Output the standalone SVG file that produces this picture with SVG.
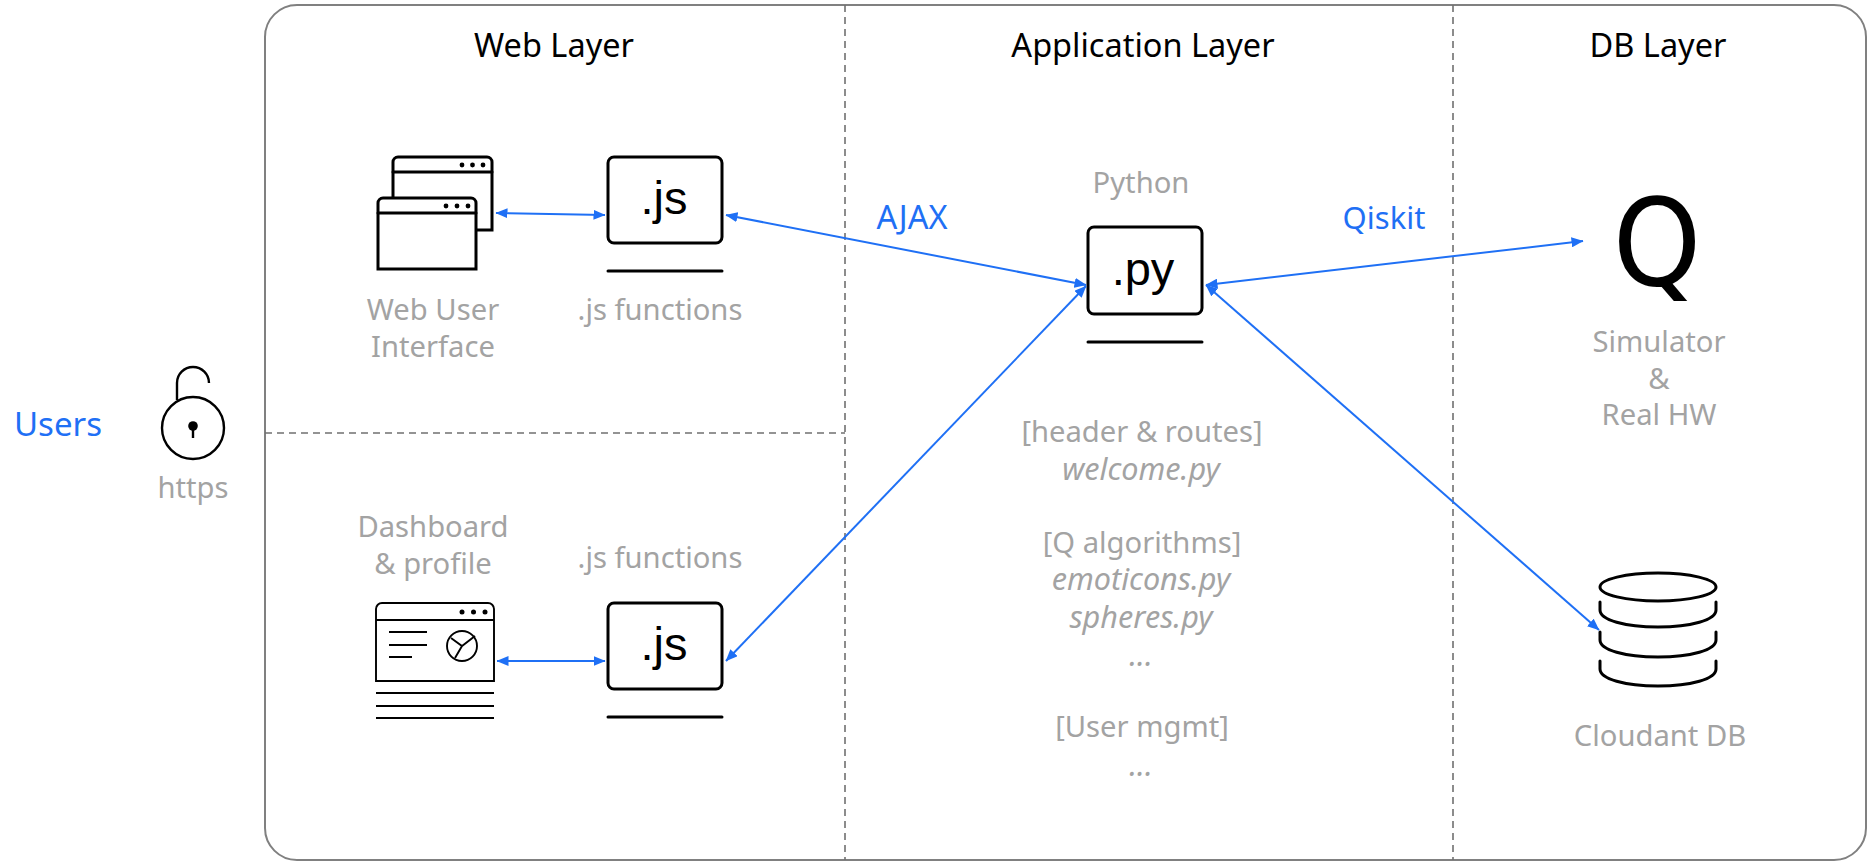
<svg xmlns="http://www.w3.org/2000/svg" width="1872" height="868" viewBox="0 0 1872 868">
<style>
text{font-family:"Noto Sans","Liberation Sans",sans-serif;font-size:29.200px;text-anchor:middle}
.h{fill:#000;font-size:32.500px}
.g{fill:#a3a3a3}
.i{font-style:italic;font-size:30.600px}
.b{fill:#1f70f5;font-size:31px}
.m{font-family:"Liberation Sans",Arial,sans-serif;font-size:47px;fill:#000}
.o{fill:#fff;stroke:#000;stroke-width:3}
.s{fill:none;stroke:#000;stroke-width:3;stroke-linecap:round}
.t{fill:none;stroke:#000;stroke-width:1.9}
.d{fill:none;stroke:#707070;stroke-width:1.6;stroke-dasharray:7 5}
.c{fill:none;stroke:#1f70f5;stroke-width:2;marker-start:url(#a);marker-end:url(#a)}
</style>
<defs>
<marker id="a" viewBox="0 0 12 10" refX="11.5" refY="5" markerWidth="12" markerHeight="10" markerUnits="userSpaceOnUse" orient="auto-start-reverse"><path d="M0 0L12 5L0 10Z" fill="#1f70f5"/></marker>
</defs>
<rect width="1872" height="868" fill="#fff"/>
<g id="frame">
<rect x="265" y="5" width="1601" height="855" rx="32" fill="#fff" stroke="#808080" stroke-width="2"/>
<path class="d" d="M845 5V860M1453 5V860M265 433H845"/>
</g>
<g id="titles">
<text class="h" x="554" y="57">Web Layer</text>
<text class="h" x="1143" y="57">Application Layer</text>
<text class="h" x="1658" y="57">DB Layer</text>
</g>
<g id="users"><text class="b" x="14" y="436" style="text-anchor:start;font-size:33px">Users</text></g>
<g id="lock">
<circle cx="193" cy="428" r="31" fill="#fff" stroke="#000" stroke-width="2.4"/>
<path d="M177 400V383A16 16 0 0 1 209 383" fill="none" stroke="#000" stroke-width="2.4"/>
<circle cx="193" cy="426" r="4.8"/><path d="M193 428V438" stroke="#000" stroke-width="2.4"/>
<text class="g" x="193" y="498">https</text>
</g>
<g id="web-ui">
<path class="o" d="M393 230V162a5 5 0 0 1 5-5H487a5 5 0 0 1 5 5V230Z"/>
<path class="s" d="M393 172H492"/>
<circle cx="462" cy="165" r="2.4"/><circle cx="472.500" cy="165" r="2.4"/><circle cx="483" cy="165" r="2.4"/>
<path class="o" d="M378 269V203a5 5 0 0 1 5-5H471a5 5 0 0 1 5 5V269Z"/>
<path class="s" d="M378 213H476"/>
<circle cx="446" cy="206" r="2.4"/><circle cx="457" cy="206" r="2.4"/><circle cx="468" cy="206" r="2.4"/>
<text class="g" x="433" y="320">Web User</text>
<text class="g" x="433" y="357">Interface</text>
</g>
<g id="js-top">
<rect class="o" x="608" y="157" width="114" height="86" rx="6"/>
<path class="s" d="M608 271H722"/>
<text class="m" x="664" y="214">.js</text>
<text class="g" x="660" y="320">.js functions</text>
</g>
<g id="dashboard">
<text class="g" x="433" y="537">Dashboard</text>
<text class="g" x="433" y="574">&amp; profile</text>
<path class="t" d="M376 681V609a6 6 0 0 1 6-6H488a6 6 0 0 1 6 6V681Z"/>
<path class="t" d="M376 620H494M389 632H427M389 645H427M389 657H412M376 693H494M376 706H494M376 718H494"/>
<circle cx="462" cy="612" r="2.500"/><circle cx="473.500" cy="612" r="2.500"/><circle cx="485" cy="612" r="2.500"/>
<circle class="t" cx="462" cy="646" r="15"/>
<path class="t" d="M451 638L462 646L475 636M462 646L455 658"/>
</g>
<g id="js-bottom">
<rect class="o" x="608" y="603" width="114" height="86" rx="6"/>
<path class="s" d="M608 717H722"/>
<text class="m" x="664" y="660">.js</text>
<text class="g" x="660" y="568">.js functions</text>
</g>
<g id="python">
<text class="g" x="1141" y="193">Python</text>
<rect class="o" x="1088" y="227" width="114" height="87" rx="6"/>
<path class="s" d="M1088 342H1202"/>
<text class="m" x="1143" y="285">.py</text>
</g>
<g id="modules">
<text class="g" x="1142" y="442">[header &amp; routes]</text>
<text class="g i" x="1141" y="480">welcome.py</text>
<text class="g" x="1142" y="553">[Q algorithms]</text>
<text class="g i" x="1141" y="590">emoticons.py</text>
<text class="g i" x="1141" y="628">spheres.py</text>
<text class="g i" x="1141" y="666">...</text>
<text class="g" x="1142" y="737">[User mgmt]</text>
<text class="g i" x="1141" y="776">...</text>
</g>
<g id="simulator">
<text transform="translate(1657 285) scale(.93 1)" x="0" y="0" style="font-size:121px;font-family:'DejaVu Sans',sans-serif;fill:#000">Q</text>
<text class="g" x="1659" y="352">Simulator</text>
<text class="g" x="1659" y="389">&amp;</text>
<text class="g" x="1659" y="425">Real HW</text>
</g>
<g id="db">
<ellipse cx="1658" cy="587" rx="58" ry="14" class="s"/>
<path class="s" d="M1600 602V610C1600 620 1625 627 1658 627S1716 620 1716 610V602M1600 632V640C1600 650 1625 657 1658 657S1716 650 1716 640V632M1600 661V669C1600 679 1625 686 1658 686S1716 679 1716 669V661"/>
<text class="g" x="1660" y="746">Cloudant DB</text>
</g>
<g id="connectors">
<path class="c" d="M496 213L605 215"/>
<path class="c" d="M726 215L1086 285"/>
<path class="c" d="M497 661H605"/>
<path class="c" d="M726 661L1086 286"/>
<path class="c" d="M1206 285L1583 241"/>
<path class="c" d="M1206 285L1599 630"/>
<text class="b" x="912" y="229" style="font-size:32.500px">AJAX</text>
<text class="b" x="1384" y="229">Qiskit</text>
</g>
</svg>
